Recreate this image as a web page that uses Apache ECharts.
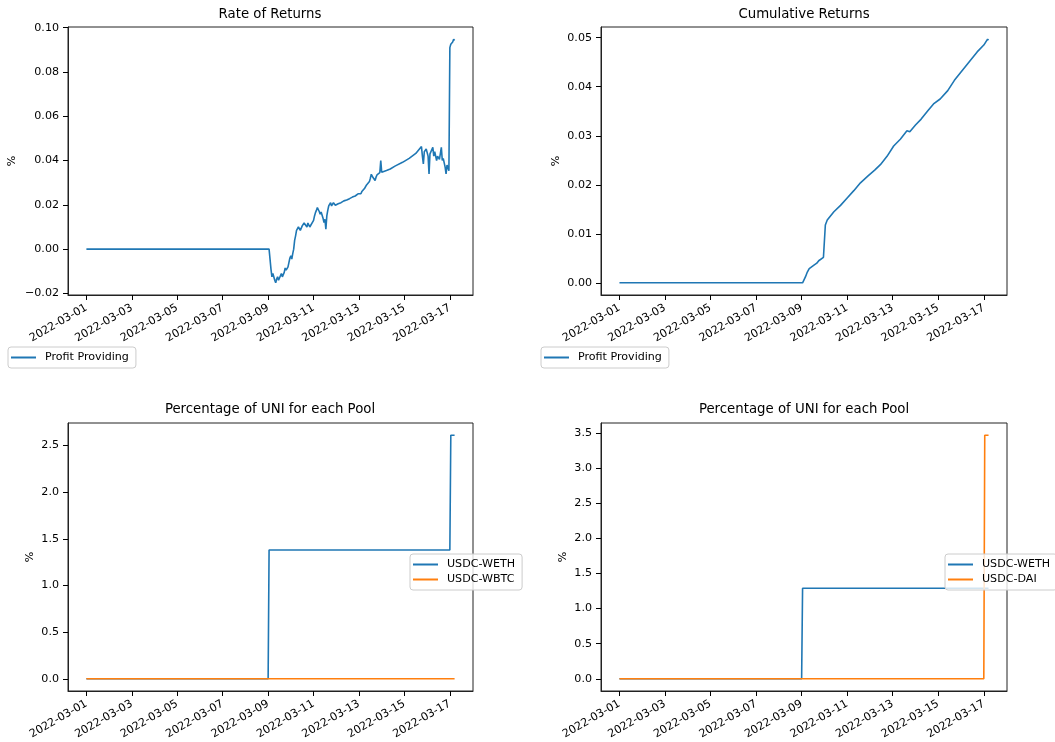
<!DOCTYPE html>
<html><head><meta charset="utf-8">
<script src="https://cdn.jsdelivr.net/npm/echarts@6/dist/echarts.min.js"></script>
<style>html,body{margin:0;padding:0;background:#fff}#c{width:1055px;height:742px}</style>
</head><body><div id="c"></div>
<script>
// hours since 2022-03-01 00:00
const rorHours = [0,193,195,196,197,199,200,201,202,203,204,205,206,207,208,209,210,211,212,213,214,215,216,217,218,219,
  220,221,222,223,224,225,226,227,228,229,230,231,232,233,234,235,236,237,238,240,241,242,243,244,245,246,247,248,249,
  250,251,252,253,254,255,256,257,258,259,260,261,262,263,264,266,269,270,271,272,273,274,275,276,277,278,279,
  280,281,282,283,284,285,286,287,288,289,290,291,292,293,294,295,296,297,298,299,300,301,302,303,304,305,306,307,308,309,
  310,311,312,314,317,321,326,334,341,348,354,355,356,357,359,361,362,363,366,367,368,370,371,373,375,376,377,379,
  380,381,383,384,385,387,388,389];
const rorValues = [0,0,-0.009,-0.0125,-0.011,-0.014,-0.0152,-0.0135,-0.0125,-0.014,-0.013,-0.012,-0.011,-0.0125,-0.012,-0.0105,-0.0085,-0.0095,-0.010,-0.008,-0.006,-0.004,-0.003,-0.0045,-0.002,0.000,
  0.004,0.006,0.0085,0.0078,0.010,0.0095,0.0085,0.009,0.0105,0.011,0.0118,0.0122,0.011,0.010,0.0118,0.0112,0.010,0.0105,0.0098,0.013,0.015,0.0165,0.0175,0.0188,0.018,0.017,0.0158,0.0168,0.0162,
  0.014,0.012,0.0135,0.009,0.015,0.0175,0.0195,0.0204,0.021,0.0195,0.019,0.021,0.0205,0.0198,0.0196,0.0205,0.021,0.0208,0.0215,0.0218,0.021,0.0212,0.0222,0.022,0.0225,0.0228,0.0222,
  0.0232,0.0235,0.0238,0.0232,0.024,0.0245,0.0238,0.025,0.0252,0.0256,0.025,0.026,0.0262,0.0265,0.0275,0.0282,0.029,0.0295,0.0288,0.0305,0.032,0.0338,0.033,0.0322,0.0315,0.031,0.0325,0.0335,0.0338,0.0332,
  0.0345,0.040,0.0347,0.0352,0.0355,0.0362,0.0375,0.0392,0.041,0.0432,0.0463,0.042,0.0385,0.044,0.0452,0.042,0.034,0.043,0.046,0.042,0.044,0.040,0.042,0.0405,0.046,0.040,0.041,0.037,
  0.034,0.038,0.0354,0.091,0.0925,0.0935,0.0948,0.0942];

const cumHours = [0,193,196,198,200,202,205,208,210,212,215,216,217,219,226,233,240,247,254,262,269,275,282,289,296,303,306,312,318,325,331,338,340,346,353,360,367,377,384,388,389];
const cumValues = [0,0,0.0012,0.0022,0.0029,0.0027,0.0036,0.0040,0.0045,0.0049,0.0052,0.0054,0.0118,0.0128,0.0145,0.0158,0.0173,0.0188,0.0204,0.0218,0.0230,0.0241,0.0258,0.0279,0.0293,0.0310,0.0308,0.0322,0.0334,0.0351,0.0365,0.0375,0.0372,0.0392,0.0413,0.0430,0.0447,0.0471,0.0485,0.0497,0.0495];

const wethAHours = [0,192,193,384,385,389];
const wethAValues = [0,0,1.38,1.38,2.61,2.61];
const wbtcHours = [0,389];
const wbtcValues = [0,0];

const wethBHours = [0,192,193,389];
const wethBValues = [0,0,1.29,1.29];
const daiHours = [0,384,385,389];
const daiValues = [0,0,3.47,3.47];

const xTickDays = [0,2,4,6,8,10,12,14,16];
const xTickLabels = ['2022-03-01','2022-03-03','2022-03-05','2022-03-07','2022-03-09','2022-03-11','2022-03-13','2022-03-15','2022-03-17'];
const yTicksRor = [-0.02,0,0.02,0.04,0.06,0.08,0.10];
const yTicksCum = [0,0.01,0.02,0.03,0.04,0.05];
const yTicksA = [0,0.5,1.0,1.5,2.0,2.5];
const yTicksB = [0,0.5,1.0,1.5,2.0,2.5,3.0,3.5];

const titles = ['Rate of Returns','Cumulative Returns','Percentage of UNI for each Pool','Percentage of UNI for each Pool'];

const BLUE = '#1f77b4', ORANGE = '#ff7f0e';
const FONT = 'DejaVu Sans';
const TICK_FS = 11.1, TITLE_FS = 13.3;

function pts(h, v){ return h.map((x,i)=>[x/24, v[i]]); }
function lim(arrs){
  let lo=Infinity, hi=-Infinity;
  arrs.forEach(a=>a.forEach(v=>{lo=Math.min(lo,v);hi=Math.max(hi,v);}));
  const m=(hi-lo)*0.05; return [lo-m, hi+m];
}
const xEnd = 389/24;
const xLim = [-xEnd*0.05, xEnd*1.05];

const grids = [
  {left:68, top:27, width:405, height:268},
  {left:601, top:27, width:406, height:268},
  {left:68, top:423, width:405, height:268},
  {left:601, top:423, width:406, height:268}
].map(g=>Object.assign(g,{show:true, borderColor:'#222', borderWidth:1, backgroundColor:'transparent'}));

const yLims = [lim([rorValues]), lim([cumValues]), lim([wethAValues,wbtcValues]), lim([wethBValues,daiValues])];
const yTicks = [yTicksRor, yTicksCum, yTicksA, yTicksB];
const yDec = [2,2,1,1];
const nameGaps = [50,39,32,32];

const xAxes = grids.map((g,i)=>({
  type:'value', gridIndex:i, position:'bottom', min:xLim[0], max:xLim[1],
  axisLine:{show:true, onZero:false, lineStyle:{color:'#222', width:1}}, splitLine:{show:false},
  axisTick:{show:true, inside:false, length:5, customValues:xTickDays, lineStyle:{color:'#000', width:1}},
  axisLabel:{show:true, customValues:xTickDays, rotate:30, margin:12, fontSize:TICK_FS, fontFamily:FONT, color:'#000',
    formatter:(v)=>{const k=xTickDays.indexOf(Math.round(v)); return k>=0?xTickLabels[k]:'';}}
}));
const yAxes = grids.map((g,i)=>({
  type:'value', gridIndex:i, position:'left', min:yLims[i][0], max:yLims[i][1],
  name:'%', nameLocation:'middle', nameRotate:90, nameGap:nameGaps[i],
  nameTextStyle:{fontSize:TICK_FS, fontFamily:FONT, color:'#000'},
  axisLine:{show:true, onZero:false, lineStyle:{color:'#222', width:1}}, splitLine:{show:false},
  axisTick:{show:true, inside:false, length:5, customValues:yTicks[i], lineStyle:{color:'#000', width:1}},
  axisLabel:{show:true, customValues:yTicks[i], margin:9, fontSize:TICK_FS, fontFamily:FONT, color:'#000',
    formatter:(v)=>v.toFixed(yDec[i]).replace('-','\u2212')}
}));

function line(name, data, idx, color){
  return {type:'line', name, data, xAxisIndex:idx, yAxisIndex:idx, showSymbol:false, symbol:'none',
    lineStyle:{color, width:1.6}, itemStyle:{color}, emphasis:{disabled:true}};
}
const series = [
  line('Profit Providing', pts(rorHours, rorValues), 0, BLUE),
  line('Profit Providing', pts(cumHours, cumValues), 1, BLUE),
  line('USDC-WETH', pts(wethAHours, wethAValues), 2, BLUE),
  line('USDC-WBTC', pts(wbtcHours, wbtcValues), 2, ORANGE),
  line('USDC-WETH', pts(wethBHours, wethBValues), 3, BLUE),
  line('USDC-DAI', pts(daiHours, daiValues), 3, ORANGE)
];

function legend(data, left, top){
  return {data, left, top, orient:'vertical', icon:'path://M0,0H25V2H0Z M29,1', itemWidth:29, itemHeight:2, itemGap:4,
    padding:[5,7,5,3], backgroundColor:'rgba(255,255,255,0.8)', borderColor:'#cccccc', borderWidth:1, borderRadius:3,
    selectedMode:false, textStyle:{fontSize:TICK_FS, fontFamily:FONT, color:'#000'}};
}

const titleCenters = [[270,15],[804,15],[270,410],[804,410]];
const graphic = titles.map((t,i)=>({type:'text', x:titleCenters[i][0], y:titleCenters[i][1], silent:true,
  style:{text:t, fill:'#000', font:TITLE_FS+'px "DejaVu Sans"', align:'center', verticalAlign:'middle', textAlign:'center', textVerticalAlign:'middle'}}));

const chart = echarts.init(document.getElementById('c'), null, {renderer:'canvas'});
chart.setOption({
  animation:false, backgroundColor:'#fff',
  grid:grids, xAxis:xAxes, yAxis:yAxes, series,
  legend:[legend(['Profit Providing'],8,347), legend(['Profit Providing'],541,347),
          legend(['USDC-WETH','USDC-WBTC'],410,554), legend(['USDC-WETH','USDC-DAI'],945,554)],
  graphic
});
</script></body></html>
